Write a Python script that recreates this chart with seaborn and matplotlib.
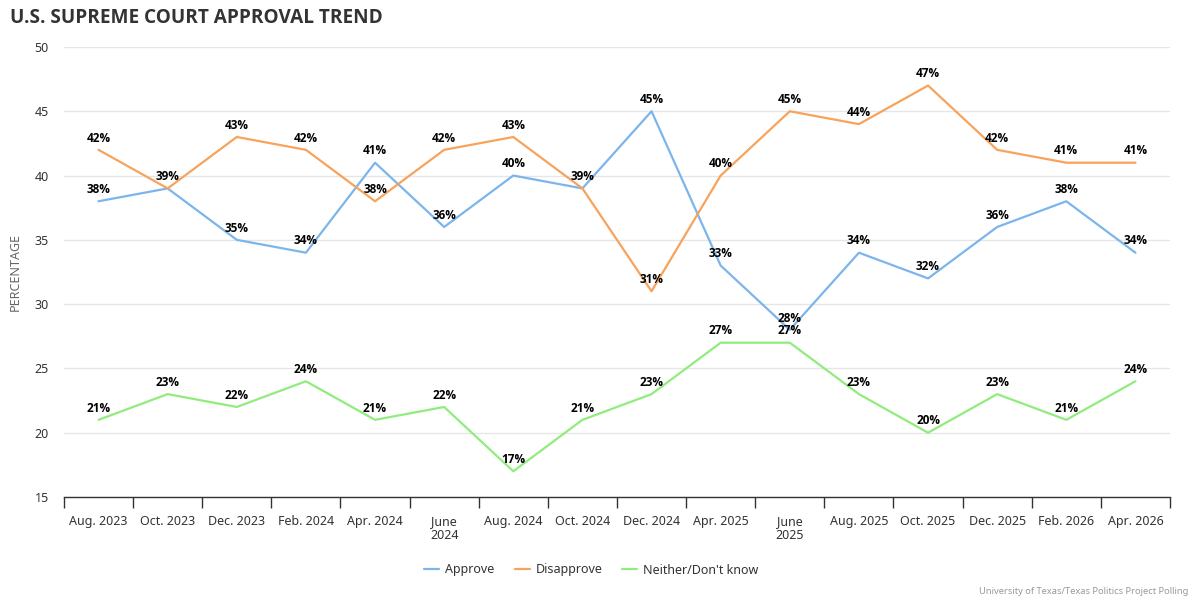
import matplotlib
matplotlib.use("Agg")
import matplotlib.pyplot as plt
import seaborn as sns
import pandas as pd
import numpy as np
from matplotlib.lines import Line2D

categories = ["Aug. 2023", "Oct. 2023", "Dec. 2023", "Feb. 2024", "Apr. 2024", "June\n2024",
              "Aug. 2024", "Oct. 2024", "Dec. 2024", "Apr. 2025", "June\n2025", "Aug. 2025",
              "Oct. 2025", "Dec. 2025", "Feb. 2026", "Apr. 2026"]
approve = [38, 39, 35, 34, 41, 36, 40, 39, 45, 33, 28, 34, 32, 36, 38, 34]
disapprove = [42, 39, 43, 42, 38, 42, 43, 39, 31, 40, 45, 44, 47, 42, 41, 41]
neither = [21, 23, 22, 24, 21, 22, 17, 21, 23, 27, 27, 23, 20, 23, 21, 24]
series_names = ["Approve", "Disapprove", "Neither/Don't know"]
colors = ["#7cb5ec", "#f7a35c", "#90ed7d"]

sns.set_theme(style="white")
plt.rcParams["font.family"] = ["Noto Sans", "DejaVu Sans"]
BOLD = ["Open Sans", "DejaVu Sans"]

rows = []
for name, vals in zip(series_names, [approve, disapprove, neither]):
    for i, v in enumerate(vals):
        rows.append({"idx": i, "value": v, "series": name})
df = pd.DataFrame(rows)

fig = plt.figure(figsize=(12, 6), dpi=100)
ax = fig.add_axes([0.0533, 0.1717, 0.9217, 0.75])

sns.lineplot(data=df, x="idx", y="value", hue="series", palette=colors,
             hue_order=series_names, linewidth=1.6, ax=ax, legend=False)

# data labels (skip duplicates at the same point)
drawn = set()
for vals in [approve, disapprove, neither]:
    for i, v in enumerate(vals):
        if (i, v) in drawn:
            continue
        drawn.add((i, v))
        ax.annotate(f"{v}%", (i, v), xytext=(0, 8.5), textcoords="offset points",
                    ha="center", va="center", fontsize=8.5, fontweight="bold", color="black",
                    family=BOLD)

ax.set_xlim(-0.5, len(categories) - 0.5)
ax.set_ylim(15, 50)
ax.set_yticks(np.arange(15, 51, 5))
ax.yaxis.grid(True, color="#e6e6e6", linewidth=1)
ax.set_axisbelow(True)

ax.set_xticks(np.arange(len(categories)))
ax.set_xticklabels(categories, fontsize=9, color="#333333", linespacing=1.05)
ax.set_xticks(np.arange(-0.5, len(categories)), minor=True)
ax.tick_params(axis="x", which="major", length=0, pad=13)
ax.tick_params(axis="x", which="minor", length=8, width=1, color="#333333", direction="out")
ax.tick_params(axis="y", length=0, labelsize=9, labelcolor="#333333", pad=11)
ax.xaxis.set_tick_params(bottom=True, which="minor")

for s in ["top", "right", "left"]:
    ax.spines[s].set_visible(False)
ax.spines["bottom"].set_color("#333333")
ax.spines["bottom"].set_linewidth(1)

ax.set_xlabel("")
ax.set_ylabel("PERCENTAGE", fontsize=9, color="#666666")
ax.yaxis.set_label_coords(-0.0385, 0.5)

fig.text(0.008, 0.97, "U.S. SUPREME COURT APPROVAL TREND", fontsize=13.7, fontweight="bold",
         color="#333333", ha="left", va="center", family=BOLD)

handles = [Line2D([0], [0], color=c, linewidth=1.6) for c in colors]
fig.legend(handles, series_names, loc="center", bbox_to_anchor=(0.493, 0.05), ncol=3,
           frameon=False, fontsize=9, handlelength=1.2, handletextpad=0.48, columnspacing=1.6,
           labelcolor="#333333")

fig.text(0.99, 0.015, "University of Texas/Texas Politics Project Polling", fontsize=6.7,
         color="#999999", ha="right", va="center")

fig.savefig("out.png", dpi=100)
